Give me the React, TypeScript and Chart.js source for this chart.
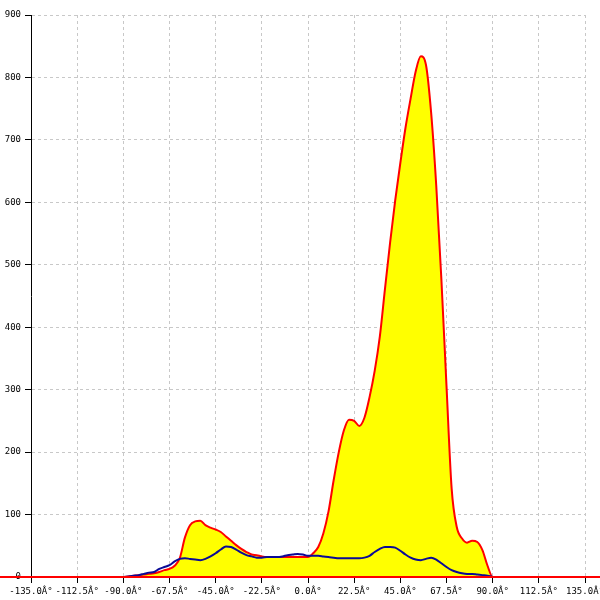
import React, { useEffect, useRef } from "react";
import { Chart, registerables } from "chart.js";

Chart.register(...registerables);

const angles = [
  -135, -90, -87.5, -85, -82.5, -80, -77.5, -75, -72.5, -70, -67.5, -65, -62.5, -60, -57.5, -55, -52.5, -50,
  -47.5, -45, -42.5, -40, -37.5, -35, -32.5, -30, -27.5, -25, -22.5, -20, -17.5, -15, -12.5, -10, -7.5, -5,
  -2.5, 0, 2.5, 5, 7.5, 10, 12.5, 15, 17.5, 20, 22.5, 25, 27.5, 30, 32.5, 35, 37.5, 40, 42.5, 45, 47.5, 50,
  52.5, 55, 57.5, 60, 62.5, 65, 67.5, 70, 72.5, 75, 77.5, 80, 82.5, 85, 87.5, 90, 135,
];

const redValues = [
  0, 0, 1, 2, 3, 4, 5, 6, 8, 11, 13, 18, 30, 63, 83, 89, 90, 83,
  79, 76, 72, 65, 58, 51, 45, 40, 36, 35, 33, 32, 32, 32, 32, 32, 32, 32,
  32, 32, 38, 48, 70, 105, 155, 200, 235, 252, 250, 242, 255, 288, 330, 385, 461, 535, 603, 663, 719, 766,
  810, 834, 820, 744, 627, 477, 306, 142, 80, 62, 55, 58, 56, 43, 18, 0, 0,
];

const blueValues = [
  null, 0, 1, 2, 3, 5, 7, 8, 13, 16, 19, 25, 29, 30, 29, 28, 27, 29,
  33, 38, 44, 49, 48, 44, 39, 35, 33, 31, 31, 32, 32, 32, 33, 35, 36, 37,
  36, 34, 34, 34, 33, 32, 31, 30, 30, 30, 30, 30, 31, 34, 40, 45, 48, 48, 47, 42, 36, 31,
  28, 27, 29, 31, 28, 22, 16, 11, 8, 6, 5, 5, 4, 3, 2, 0, null,
];

const xTicks = [-135, -112.5, -90, -67.5, -45, -22.5, 0, 22.5, 45, 67.5, 90, 112.5, 135];
const yTicks = [0, 100, 200, 300, 400, 500, 600, 700, 800, 900];

const baselinePlugin = {
  id: "baseline",
  afterDatasetsDraw(chart: any) {
    const y = chart.scales.y.getPixelForValue(0);
    const ctx = chart.ctx;
    ctx.save();
    ctx.strokeStyle = "#ff0000";
    ctx.lineWidth = 2;
    ctx.beginPath();
    ctx.moveTo(0, y);
    ctx.lineTo(chart.width, y);
    ctx.stroke();
    ctx.restore();
  },
};

export default function App() {
  const ref = useRef<HTMLCanvasElement | null>(null);
  useEffect(() => {
    if (!ref.current) return;
    const red = angles.map((a, i) => ({ x: a, y: redValues[i] }));
    const blue = angles
      .map((a, i) => ({ x: a, y: blueValues[i] }))
      .filter((p) => p.y !== null);
    const font = { family: "'DejaVu Sans Mono', monospace", size: 9 };
    const chart = new Chart(ref.current, {
      type: "line",
      data: {
        datasets: [
          {
            label: "red",
            data: red,
            borderColor: "#ff0000",
            backgroundColor: "#ffff00",
            fill: "origin",
            borderWidth: 2,
            pointRadius: 0,
            cubicInterpolationMode: "monotone",
            order: 1,
          },
          {
            label: "blue",
            data: blue as any,
            borderColor: "#0a0a96",
            fill: false,
            borderWidth: 2,
            pointRadius: 0,
            cubicInterpolationMode: "monotone",
            order: 0,
          },
        ],
      },
      options: {
        animation: false,
        responsive: false,
        layout: { padding: { top: 15, right: 15, left: 0, bottom: 0 } },
        plugins: { legend: { display: false }, tooltip: { enabled: false } },
        scales: {
          x: {
            type: "linear",
            min: -135,
            max: 135,
            afterBuildTicks: (s: any) => {
              s.ticks = xTicks.map((v) => ({ value: v }));
            },
            afterFit: (s: any) => {
              s.height = 23;
              s.paddingLeft = 0;
              s.paddingRight = 0;
            },
            ticks: {
              autoSkip: false,
              maxRotation: 0,
              minRotation: 0,
              padding: 3,
              color: "#000",
              font,
              callback: (v: any) => Number(v).toFixed(1) + "Â°",
            },
            grid: {
              color: "#c8c8c8",
              tickColor: "#000",
              tickLength: 6,
              tickBorderDash: [1, 0],
            },
            border: { display: true, color: "#000", width: 1, dash: [3, 3] },
          },
          y: {
            min: 0,
            max: 900,
            afterBuildTicks: (s: any) => {
              s.ticks = yTicks.map((v) => ({ value: v }));
            },
            afterFit: (s: any) => {
              s.width = 31;
              s.paddingTop = 0;
              s.paddingBottom = 0;
            },
            ticks: {
              padding: 4,
              color: "#000",
              font,
            },
            grid: {
              color: "#c8c8c8",
              tickColor: "#000",
              tickLength: 6,
              tickBorderDash: [1, 0],
            },
            border: { display: true, color: "#000", width: 1, dash: [3, 3] },
          },
        },
      },
      plugins: [baselinePlugin],
    });
    return () => chart.destroy();
  }, []);
  return (
    <div style={{ position: "absolute", left: 0, top: 0, width: 600, height: 600, background: "#fff" }}>
      <canvas ref={ref} width={600} height={600} />
    </div>
  );
}
